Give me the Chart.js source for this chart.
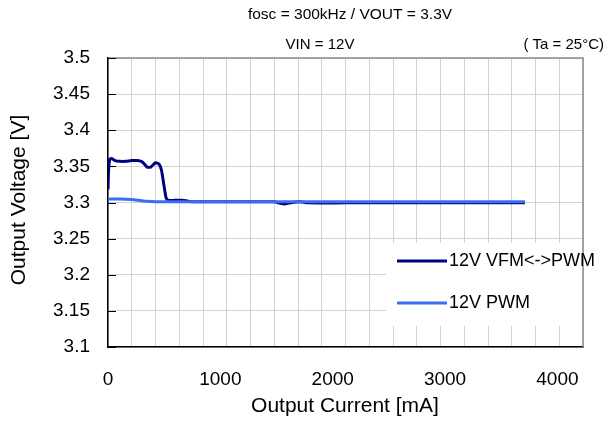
<!DOCTYPE html>
<html>
<head>
<meta charset="utf-8">
<script src="https://cdn.jsdelivr.net/npm/chart.js@4"></script>
<style>
  html, body { margin: 0; padding: 0; background: #fff; }
  #wrap { width: 609px; height: 423px; }
</style>
</head>
<body>
<div id="wrap"><canvas id="chart" width="609" height="423"></canvas></div>
<script>
// Data
const vfmCurrent = [0, 5, 15, 30, 60, 100, 150, 200, 250, 290, 330, 360, 400, 430, 450, 470, 490, 510, 560, 620, 670, 700, 800, 1000, 1200, 1400, 1450, 1490, 1550, 1620, 1680, 2000, 2500, 3000, 3510];
const vfmVoltage = [3.318, 3.345, 3.360, 3.361, 3.358, 3.357, 3.357, 3.358, 3.358, 3.356, 3.349, 3.349, 3.355, 3.353, 3.345, 3.325, 3.306, 3.303, 3.303, 3.303, 3.302, 3.301, 3.301, 3.301, 3.301, 3.301, 3.299, 3.298, 3.300, 3.301, 3.2995, 3.2995, 3.2995, 3.2995, 3.2995];

const pwmCurrent = [0, 100, 200, 300, 400, 500, 1000, 1500, 2000, 2500, 3000, 3510];
const pwmVoltage = [3.305, 3.305, 3.304, 3.302, 3.301, 3.301, 3.301, 3.301, 3.301, 3.301, 3.301, 3.301];

const xTickLabels = [0, 1000, 2000, 3000, 4000];
const yTickLabels = [3.1, 3.15, 3.2, 3.25, 3.3, 3.35, 3.4, 3.45, 3.5];

const seriesNames = ['12V VFM<->PWM', '12V PWM'];
const seriesColors = ['#000080', '#3a6ef0'];

const FONT = '"Liberation Sans", Arial, sans-serif';

const toPoints = (xs, ys) => xs.map((x, i) => ({ x: x, y: ys[i] }));

// Titles, frame, inside ticks, x labels, legend
const decorations = {
    id: 'decorations',
    afterDraw(chart) {
        const c = chart.ctx;
        const a = chart.chartArea;
        const xs = chart.scales.x;
        const ys = chart.scales.y;
        c.save();

        // top/right frame
        c.strokeStyle = '#8c8c8c';
        c.lineWidth = 1.5;
        c.beginPath();
        c.moveTo(a.left, a.top);
        c.lineTo(a.right, a.top);
        c.lineTo(a.right, a.bottom);
        c.stroke();

        // short tick marks inside the left axis
        c.strokeStyle = '#000';
        c.lineWidth = 1;
        yTickLabels.forEach(v => {
            const py = Math.round(ys.getPixelForValue(v)) + 0.5;
            c.beginPath();
            c.moveTo(a.left, py);
            c.lineTo(a.left + 8, py);
            c.stroke();
        });

        c.fillStyle = '#000';
        c.textBaseline = 'middle';

        // x tick labels (the original sits them a little left of the gridlines)
        c.font = '19px ' + FONT;
        c.textAlign = 'center';
        xTickLabels.forEach(v => {
            c.fillText(String(v), xs.getPixelForValue(v) - v * 0.0064, 380);
        });

        // titles
        c.font = '15.5px ' + FONT;
        c.fillText('fosc = 300kHz / VOUT = 3.3V', 350, 15);
        c.font = '15px ' + FONT;
        c.fillText('VIN = 12V', 320, 45);
        c.textAlign = 'right';
        c.fillText('( Ta = 25°C)', 604, 45);

        // axis titles
        c.font = '21px ' + FONT;
        c.textAlign = 'center';
        c.fillText('Output Current [mA]', 345, 406);
        c.save();
        c.translate(19, 200);
        c.rotate(-Math.PI / 2);
        c.fillText('Output Voltage [V]', 0, 0);
        c.restore();

        // legend box
        c.fillStyle = '#fff';
        c.fillRect(386, 243, a.right - 387, 83);
        const rows = [261, 303];
        seriesNames.forEach((name, i) => {
            c.strokeStyle = seriesColors[i];
            c.lineWidth = 3;
            c.beginPath();
            c.moveTo(397, rows[i]);
            c.lineTo(447, rows[i]);
            c.stroke();
            c.fillStyle = '#000';
            c.textAlign = 'left';
            c.font = '18px ' + FONT;
            c.fillText(name, 449, rows[i]);
        });

        c.restore();
    }
};

new Chart(document.getElementById('chart'), {
    type: 'line',
    data: {
        datasets: [
            {
                label: seriesNames[1],
                data: toPoints(pwmCurrent, pwmVoltage),
                borderColor: seriesColors[1],
                borderWidth: 3,
                pointRadius: 0,
                tension: 0,
                order: 1
            },
            {
                label: seriesNames[0],
                data: toPoints(vfmCurrent, vfmVoltage),
                borderColor: seriesColors[0],
                borderWidth: 3,
                pointRadius: 0,
                tension: 0.2,
                order: 2
            }
        ]
    },
    options: {
        responsive: false,
        animation: false,
        layout: { padding: { top: 58, right: 26, left: 0, bottom: 0 } },
        plugins: {
            legend: { display: false },
            title: { display: false },
            tooltip: { enabled: false }
        },
        scales: {
            x: {
                type: 'linear',
                min: 0,
                max: 4000,
                afterFit: s => { s.height = 76; },
                afterBuildTicks: s => {
                    s.ticks = [];
                    for (let v = 0; v <= 4000; v += 200) s.ticks.push({ value: v });
                },
                ticks: { display: false },
                grid: { color: '#d2d2d2', lineWidth: 1, drawTicks: false },
                border: { color: '#000', width: 1.5 }
            },
            y: {
                min: 3.1,
                max: 3.5,
                afterFit: s => { s.width = 108; },
                afterBuildTicks: s => {
                    s.ticks = yTickLabels.map(v => ({ value: v }));
                },
                ticks: {
                    padding: 18,
                    color: '#000',
                    font: { family: FONT, size: 19 },
                    callback: v => String(Math.round(v * 100) / 100)
                },
                grid: { color: '#d2d2d2', lineWidth: 1, drawTicks: false },
                border: { color: '#000', width: 1.5 }
            }
        }
    },
    plugins: [decorations]
});
</script>
</body>
</html>
